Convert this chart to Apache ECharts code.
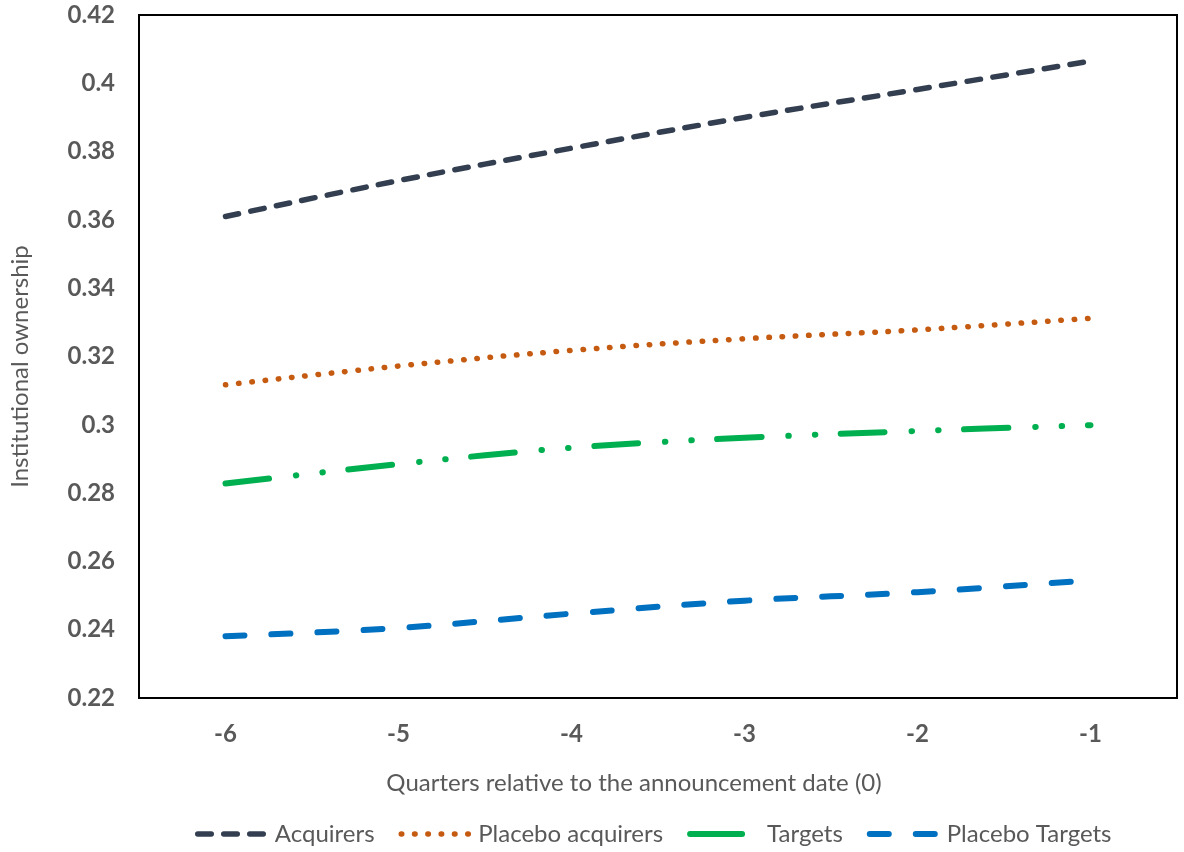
<!DOCTYPE html>
<html>
<head>
<meta charset="utf-8">
<script src="https://cdn.jsdelivr.net/npm/echarts@6/dist/echarts.min.js"></script>
<style>
  html, body { margin: 0; padding: 0; background: #fff; }
  #chart { width: 1184px; height: 852px; }
</style>
</head>
<body>
<div id="chart"></div>
<script>
// Quarters relative to the announcement date
const quarters = ['-6', '-5', '-4', '-3', '-2', '-1'];

// Average institutional ownership per group
const acquirers        = [0.3610, 0.3715, 0.3810, 0.3900, 0.3982, 0.4065];
const placeboAcquirers = [0.3117, 0.3172, 0.3218, 0.3252, 0.3278, 0.3312];
const targets          = [0.2828, 0.2885, 0.2933, 0.2962, 0.2982, 0.2999];
const placeboTargets   = [0.2381, 0.2405, 0.2447, 0.2485, 0.2510, 0.2545];

const seriesNames = ['Acquirers', 'Placebo acquirers', 'Targets', 'Placebo Targets'];

const FONT = 'Lato, "Open Sans", sans-serif';
const GREY = '#595959';

// Per-series stroke look: colour, width, dash pattern (and legend swatch dash)
const styles = [
  { color: '#333F50', width: 5.5, dash: [13.5, 12.5], legendDash: [13.5, 12.5] },
  { color: '#C55A11', width: 5.5, dash: [0.5, 12.8],  legendDash: [0.5, 12.8] },
  { color: '#00B050', width: 6,   dash: [44, 27, 0.5, 26, 0.5, 25.5], legendDash: [52, 40] },
  { color: '#0070C0', width: 6,   dash: [19, 27],     legendDash: [19, 27] }
];
const values = [acquirers, placeboAcquirers, targets, placeboTargets];

const series = seriesNames.map((name, i) => ({
  name: name,
  type: 'line',
  data: values[i],
  smooth: 0.35,
  symbol: 'none',
  silent: true,
  lineStyle: { color: styles[i].color, width: styles[i].width, type: styles[i].dash, cap: 'round', join: 'round' },
  itemStyle: { color: styles[i].color }
}));

const legendData = seriesNames.map((name, i) => ({
  name: name,
  lineStyle: { width: styles[i].width, color: styles[i].color, type: styles[i].legendDash, cap: 'round' },
  itemStyle: { color: 'transparent', borderWidth: 0, opacity: 0 }
}));

const chart = echarts.init(document.getElementById('chart'), null, { renderer: 'canvas' });

chart.setOption({
  animation: false,
  backgroundColor: '#fff',
  grid: {
    left: 136, top: 15, right: 7, bottom: 154,
    show: true, borderColor: '#000', borderWidth: 2, backgroundColor: 'transparent'
  },
  legend: {
    left: 190, top: 817,
    itemWidth: 72, itemHeight: 14, itemGap: 24,
    textStyle: { fontFamily: FONT, fontSize: 24, color: GREY },
    data: legendData
  },
  xAxis: {
    type: 'category',
    data: quarters,
    boundaryGap: true,
    axisLine: { show: false },
    axisTick: { show: false },
    axisLabel: { fontFamily: FONT, fontSize: 24, fontWeight: 'bold', color: GREY, margin: 24 },
    splitLine: { show: false },
    name: 'Quarters relative to the announcement date (0)',
    nameLocation: 'middle',
    nameGap: 73,
    nameTextStyle: { fontFamily: FONT, fontSize: 24, color: GREY, padding: [0, 48, 0, 0] }
  },
  yAxis: {
    type: 'value',
    min: 0.22, max: 0.42, interval: 0.02,
    axisLine: { show: false },
    axisTick: { show: false },
    splitLine: { show: false },
    axisLabel: {
      fontFamily: FONT, fontSize: 24, fontWeight: 'bold', color: GREY, margin: 24,
      formatter: v => String(parseFloat(v.toFixed(2)))
    },
    name: 'Institutional ownership',
    nameLocation: 'middle',
    nameGap: 107,
    nameTextStyle: { fontFamily: FONT, fontSize: 24, color: GREY, padding: [0, 20, 0, 0] }
  },
  series: series
});
</script>
</body>
</html>
